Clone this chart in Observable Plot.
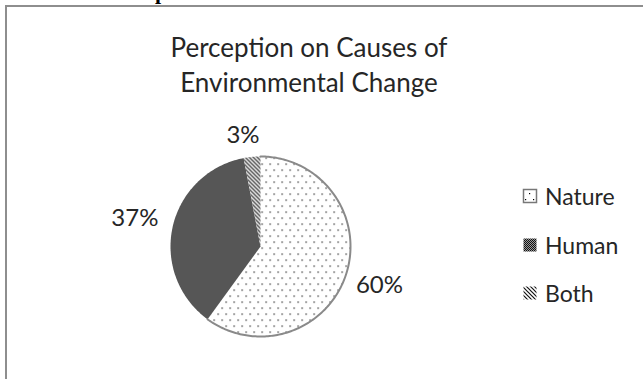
<!DOCTYPE html>
<html>
<head>
<meta charset="utf-8">
<script src="https://cdn.jsdelivr.net/npm/d3@7"></script>
<script src="https://cdn.jsdelivr.net/npm/@observablehq/plot@0.6"></script>
<style>
  html, body { margin: 0; padding: 0; background: #fff; }
  #page { position: relative; width: 643px; height: 379px; overflow: hidden; background: #fff; }
  #frame { position: absolute; left: 5px; top: 5px; width: 700px; height: 420px; border-left: 2px solid #8e8e8e; border-top: 2px solid #8e8e8e; }
  .layer { position: absolute; left: 0; top: 0; }
</style>
</head>
<body>
<div id="page">
  <svg class="layer" width="643" height="8"><text x="155" y="-1" font-family="Liberation Serif" font-weight="bold" font-size="22" fill="#000">p</text></svg>
  <div id="frame"></div>
  <svg class="layer" id="title" width="643" height="110"></svg>
  <div class="layer" id="pie"></div>
  <svg class="layer" id="legend" width="643" height="379"></svg>
</div>
<script>
// Survey shares (percent)
const categories = ["Nature", "Human", "Both"];
const shares = [60, 37, 3];
const labels = ["60%", "37%", "3%"];
const titleLines = ["Perception on Causes of", "Environmental Change"];
const fills = ["url(#dots)", "url(#checker)", "url(#stripes)"];

const W = 643, H = 379;
const cx = 260, cy = 246, R = 90; // pie centre and radius in pixels
const font = "Lato, 'Open Sans', sans-serif";
const ink = "#262626";

// Title, centred over the chart area
d3.select("#title").selectAll("text").data(titleLines).join("text")
  .attr("x", 309).attr("y", (d, i) => 57 + i * 35)
  .attr("text-anchor", "middle").attr("font-family", font).attr("font-size", 26).attr("fill", ink)
  .text(d => d);

// Slice angles, clockwise from 12 o'clock
const arcs = d3.pie().sort(null).value(d => d.value)(
  categories.map((c, i) => ({category: c, value: shares[i], label: labels[i]}))
);

// Each slice as a closed polygon in unit coordinates
const outline = [];
for (const a of arcs) {
  const n = Math.max(4, Math.ceil((a.endAngle - a.startAngle) / (Math.PI / 180)));
  outline.push({category: a.data.category, x: 0, y: 0, rim: false});
  for (let k = 0; k <= n; ++k) {
    const t = a.startAngle + (a.endAngle - a.startAngle) * k / n;
    outline.push({category: a.data.category, x: Math.sin(t), y: Math.cos(t), rim: true});
  }
  outline.push({category: a.data.category, x: 0, y: 0, rim: false});
}

// Value labels outside each slice along its mid-angle
const labelRadius = [1.39, 1.43, 1.24];
const labelShift = [0, 0, -7];
const labelData = arcs.map((a, i) => {
  const m = (a.startAngle + a.endAngle) / 2;
  return {label: a.data.label, x: Math.sin(m) * labelRadius[i], y: Math.cos(m) * labelRadius[i], dx: labelShift[i]};
});

const chart = Plot.plot({
  width: W,
  height: H,
  margin: 0,
  x: {domain: [-cx / R, (W - cx) / R], axis: null},
  y: {domain: [-(H - cy) / R, cy / R], axis: null},
  color: {domain: categories, range: fills},
  style: {background: "transparent", overflow: "visible"},
  marks: [
    Plot.line(outline, {x: "x", y: "y", z: "category", fill: "category", stroke: "none"}),
    Plot.line(outline.filter(d => d.category === "Nature" && d.rim), {x: "x", y: "y", stroke: "#8a8a8a", strokeWidth: 2, fill: "none"}),
    ...labelData.map(d =>
      Plot.text([d], {x: "x", y: "y", text: "label", dx: d.dx, fontSize: 24, fill: ink, fontFamily: font})
    )
  ]
});

// Fill patterns for the slices and legend swatches
const defs = d3.select(chart).insert("defs", ":first-child");
const dots = defs.append("pattern").attr("id", "dots").attr("patternUnits", "userSpaceOnUse").attr("width", 8).attr("height", 12);
dots.append("rect").attr("width", 8).attr("height", 12).attr("fill", "#fff");
dots.append("rect").attr("x", 1).attr("y", 1).attr("width", 1.2).attr("height", 1.2).attr("fill", "#000");
dots.append("rect").attr("x", 5).attr("y", 7).attr("width", 1.2).attr("height", 1.2).attr("fill", "#000");

const checker = defs.append("pattern").attr("id", "checker").attr("patternUnits", "userSpaceOnUse").attr("width", 2).attr("height", 2);
checker.append("rect").attr("width", 2).attr("height", 2).attr("fill", "#9a9a9a");
checker.append("rect").attr("x", 0).attr("y", 0).attr("width", 1).attr("height", 1).attr("fill", "#111");
checker.append("rect").attr("x", 1).attr("y", 1).attr("width", 1).attr("height", 1).attr("fill", "#111");

const stripes = defs.append("pattern").attr("id", "stripes").attr("patternUnits", "userSpaceOnUse").attr("width", 4).attr("height", 4);
stripes.append("rect").attr("width", 4).attr("height", 4).attr("fill", "#fff");
stripes.append("path").attr("d", "M-1,-1 L5,5 M-1,3 L1,5 M3,-1 L5,1").attr("stroke", "#111").attr("stroke-width", 1.2);

document.getElementById("pie").appendChild(chart);

// Legend
const rowBase = [205, 254, 302];
const lg = d3.select("#legend");
categories.forEach((c, i) => {
  lg.append("rect").attr("x", 523.5).attr("y", rowBase[i] - 15.5).attr("width", 13).attr("height", 13)
    .attr("fill", fills[i]).attr("stroke", i === 0 ? "#777" : "none").attr("stroke-width", 1.5);
  lg.append("text").attr("x", 545).attr("y", rowBase[i])
    .attr("font-family", font).attr("font-size", 23).attr("fill", ink).text(c);
});
</script>
</body>
</html>
